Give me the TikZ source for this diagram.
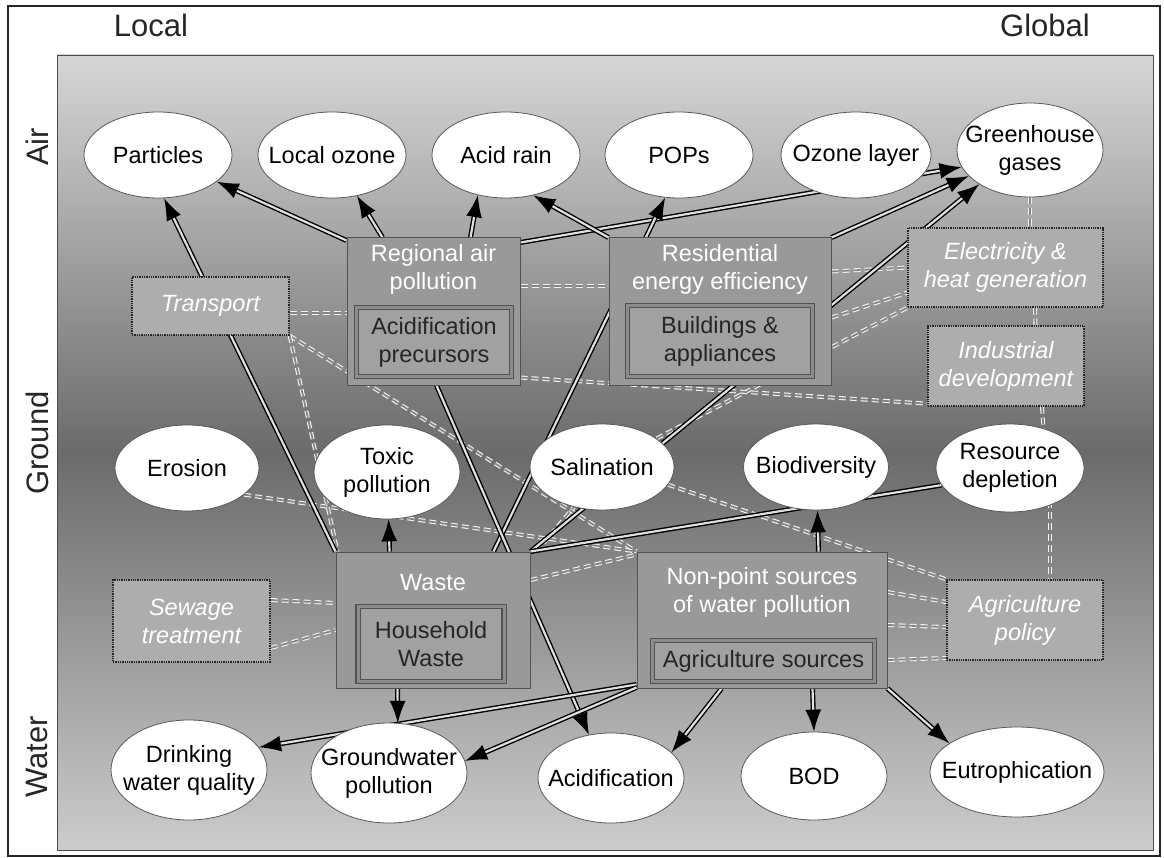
\documentclass[tikz,border=0pt]{standalone}
\usepackage{fontspec}
\setmainfont{Liberation Sans}
\usetikzlibrary{shapes.geometric,arrows.meta,calc}
\pgfdeclarelayer{bg}
\pgfdeclarelayer{edges}
\pgfsetlayers{bg,edges,main}
\definecolor{boxgray}{gray}{0.6}
\definecolor{innerfill}{gray}{0.63}
\definecolor{bandgray}{gray}{0.55}
\definecolor{edgegray}{gray}{0.32}
\definecolor{polfill}{gray}{0.68}
\definecolor{paneltop}{gray}{0.84}
\definecolor{panelmid}{gray}{0.42}
\definecolor{panelbot}{gray}{0.80}
\definecolor{dashcore}{gray}{0.52}
\definecolor{linkcore}{gray}{0.88}
\newcommand\lblfont{\fontsize{23.5}{28}\selectfont}
\newcommand\axisfont{\fontsize{31}{36}\selectfont}
\newcommand\mkell[5]{%
  \node[ell, minimum width=#3, minimum height=#4] (#1) at #2 {};
  \node[etext] (#1-t) at (#1) {#5};}
\begin{document}
\begin{tikzpicture}[x=1pt, y=-1pt,
  ell/.style={ellipse, draw=black!65, line width=0.8pt, fill=white, inner sep=0pt},
  etext/.style={font=\lblfont, align=center, text=black, inner sep=0pt},
  mainbox/.style={rectangle, draw=edgegray, line width=1pt, fill=boxgray, inner sep=0pt},
  boxtitle/.style={font=\lblfont, align=center, text=white, inner sep=0pt},
  innerbox/.style={rectangle, draw=edgegray, line width=1.3pt, double=bandgray, double distance=3pt, fill=innerfill, inner sep=0pt, font=\lblfont, align=center, text=black!85},
  policy/.style={rectangle, draw=black!85, line width=1.3pt, densely dotted, fill=polfill, inner sep=0pt, font=\lblfont\itshape, align=center, text=white},
  axislabel/.style={font=\axisfont, text=black!85, inner sep=0pt},
  link/.style={draw=black, line width=1.4pt, double=linkcore, double distance=2.2pt},
  arr/.style={link, -{Latex[length=22pt,width=16pt]}},
  dlink/.style={draw=white!95!black, line width=1.1pt, double=dashcore, double distance=1.8pt, dash pattern=on 7pt off 4pt}
]
\useasboundingbox (0,0) rectangle (1164,858);
\begin{pgfonlayer}{bg}
  \fill[white] (0,0) rectangle (1164,858);
  \draw[black!85, line width=1.6pt] (8,6) rectangle (1160,856);
  \shade[top color=paneltop, bottom color=panelbot, middle color=panelmid] (57,55) rectangle (1153,850);
  \draw[gray!60!black, line width=0.8pt] (57,55) rectangle (1153,850);
\end{pgfonlayer}

% axis labels
\node[axislabel] (lbl-local) at (151,25) {Local};
\node[axislabel] (lbl-global) at (1045,25) {Global};
\node[axislabel, rotate=90] (lbl-air) at (37,147) {Air};
\node[axislabel, rotate=90] (lbl-ground) at (37,443) {Ground};
\node[axislabel, rotate=90] (lbl-water) at (37,757) {Water};

% ellipses
\mkell{part}{(158,155)}{148pt}{86pt}{Particles}
\mkell{lozone}{(332,155)}{148pt}{86pt}{Local ozone}
\mkell{acidr}{(506,155)}{148pt}{86pt}{Acid rain}
\mkell{pops}{(679,155)}{148pt}{86pt}{POPs}
\mkell{ozl}{(856,155)}{150pt}{86pt}{Ozone layer}
\mkell{ghg}{(1030,150)}{146pt}{94pt}{Greenhouse\\gases}
\mkell{ero}{(187,468)}{144pt}{86pt}{Erosion}
\mkell{toxic}{(387,472)}{146pt}{94pt}{Toxic\\pollution}
\mkell{sal}{(602,467)}{144pt}{86pt}{Salination}
\mkell{bio}{(816,467)}{145pt}{86pt}{Biodiversity}
\mkell{res}{(1010,468)}{148pt}{88pt}{Resource\\depletion}
\mkell{drink}{(189,770)}{156pt}{100pt}{Drinking\\water quality}
\mkell{gw}{(389,773)}{156pt}{100pt}{Groundwater\\pollution}
\mkell{acidif}{(611,778)}{146pt}{90pt}{Acidification}
\mkell{bod}{(814,776)}{146pt}{88pt}{BOD}
\mkell{eut}{(1017,772)}{174pt}{90pt}{Eutrophication}

% policy boxes
\node[policy, minimum width=157pt, minimum height=58pt] (transport) at (210.5,306) {Transport};
\node[policy, minimum width=195pt, minimum height=79pt] (elec) at (1005.5,267.5) {Electricity \&\\heat generation};
\node[policy, minimum width=156pt, minimum height=80pt] (indus) at (1006,366) {Industrial\\development};
\node[policy, minimum width=157pt, minimum height=82pt] (sewage) at (191.5,621) {Sewage\\treatment};
\node[policy, minimum width=156pt, minimum height=80pt] (agpol) at (1025,620) {Agriculture\\policy};

% main boxes
\node[mainbox, minimum width=173pt, minimum height=147pt] (regional) at (433.5,311.5) {};
\node[boxtitle] (regional-t) at (433.5,269) {Regional air\\pollution};
\node[innerbox, minimum width=155pt, minimum height=69pt] (acidprec) at (434,342) {Acidification\\precursors};

\node[mainbox, minimum width=222pt, minimum height=147pt] (resid) at (720,311.5) {};
\node[boxtitle] (resid-t) at (720,269) {Residential\\energy efficiency};
\node[innerbox, minimum width=185pt, minimum height=71pt] (build) at (720,341) {Buildings \&\\appliances};

\node[mainbox, minimum width=194pt, minimum height=136pt] (waste) at (433,620) {};
\node[boxtitle] (waste-t) at (433,583) {Waste};
\node[innerbox, minimum width=146pt, minimum height=75pt] (hh) at (431,644) {Household\\Waste};

\node[mainbox, minimum width=250pt, minimum height=136pt] (nonpt) at (762,620) {};
\node[boxtitle] (nonpt-t) at (762,592.5) {Non-point sources\\of water pollution};
\node[innerbox, minimum width=222pt, minimum height=41pt] (agri) at (763.5,661) {Agriculture sources};

\begin{pgfonlayer}{edges}
  % dashed links
  \draw[dlink] ($(transport.east)+(0,7)$) -- ($(regional.west)+(0,1.5)$);
  \draw[dlink] ($(regional.east)+(0,-25.5)$) -- ($(resid.west)+(0,-25.5)$);
  \draw[dlink] ($(resid.east)+(0,-40)$) -- (elec.west);
  \draw[dlink] ($(resid.east)+(0,6)$) -- ($(elec.south west)+(0,-15)$);
  \draw[dlink] (sal) -- (elec.south west);
  \draw[dlink] ($(regional.south east)+(0,-8)$) -- ($(indus.south west)+(0,-3)$);
  \draw[dlink] (ghg.south) -- (ghg.south |- elec.north);
  \draw[dlink] ($(elec.south)+(29.5,0)$) -- ($(indus.north)+(29.5,0)$);
  \draw[dlink] ($(indus.south)+(36,0)$) -- ($(res.center)+(36,0)$);
  \draw[dlink] ($(res.center)+(40,0)$) -- ($(agpol.north)+(25,0)$);
  \draw[dlink] ($(sewage.east)+(0,-21)$) -- ($(waste.west)+(0,-17)$);
  \draw[dlink] ($(sewage.east)+(0,27)$) -- ($(waste.west)+(0,10)$);
  \draw[dlink] ($(nonpt.east)+(0,-28)$) -- ($(agpol.west)+(0,-18)$);
  \draw[dlink] ($(nonpt.east)+(0,5)$) -- ($(agpol.west)+(0,7)$);
  \draw[dlink] ($(nonpt.east)+(0,40)$) -- ($(agpol.west)+(0,38)$);
  \draw[dlink] (ero.-25) -- (nonpt.north west);
  \draw[dlink] (transport.south east) -- (nonpt.north west);
  \draw[dlink] (transport.south east) -- ($(waste.north west)+(2,0)$);
  \draw[dlink] (sal.-15) -- (agpol.north west);
  \draw[dlink] ($(waste.east)+(0,-40)$) -- ($(nonpt.north west)+(0,3)$);
  \draw[dlink] ($(waste.north east)+(6,0)$) -- (sal.-125);
  % black links
  \draw[arr] (waste.north west) -- (part.-82);
  \draw[arr] ($(regional.north west)+(0,3)$) -- (part);
  \draw[arr] ($(regional.north west)+(36,0)$) -- (lozone);
  \draw[arr] ($(regional.north west)+(124,0)$) -- (acidr.-125);
  \draw[arr] ($(regional.north east)+(0,5)$) -- (ghg.-166);
  \draw[arr] (resid.north west) -- (acidr.-56);
  \draw[arr] ($(waste.north east)+(-37,0)$) -- (pops.-108);
  \draw[arr] (resid.north east) -- (ghg.-157);
  \draw[arr] (waste.north east) -- (ghg.-146);
  \draw[arr] ($(waste.north west)+(54,0)$) -- (toxic.-88);
  \draw[arr] ($(waste.south west)+(62,0)$) -- (gw.80);
  \draw[arr] ($(regional.south west)+(90,0)$) -- (acidif.117);
  \draw[arr] ($(nonpt.south west)+(0,-4)$) -- (drink.18);
  \draw[arr] ($(nonpt.south west)+(0,-1)$) -- (gw.9);
  \draw[arr] ($(nonpt.south west)+(85,0)$) -- (acidif.23);
  \draw[arr] ($(nonpt.south west)+(176,0)$) -- (bod.90);
  \draw[arr] (nonpt.south east) -- (eut.157);
  \draw[arr] ($(nonpt.north west)+(182,0)$) -- (bio.-88);
  \draw[link] (waste.north east) -- (res.-166);
\end{pgfonlayer}
\end{tikzpicture}
\end{document}
